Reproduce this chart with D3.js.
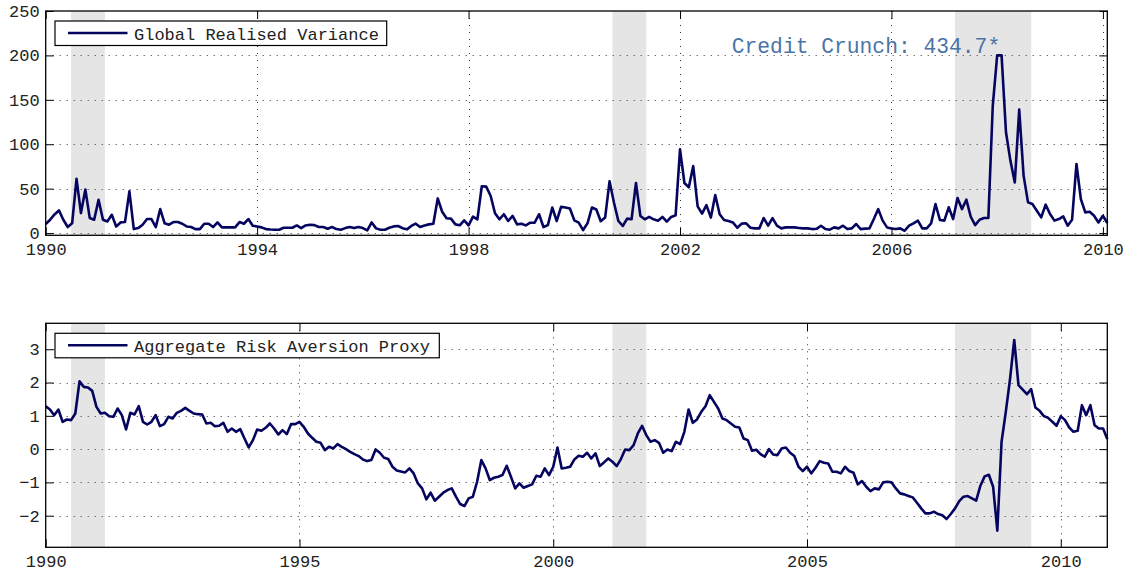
<!DOCTYPE html>
<html>
<head>
<meta charset="utf-8">
<script src="https://cdn.jsdelivr.net/npm/d3@7"></script>
<style>
  html, body { margin: 0; padding: 0; background: #fff; }
  svg { display: block; }
  text { font-family: "Liberation Mono", "DejaVu Sans Mono", monospace; }
</style>
</head>
<body>
<svg id="chart" width="1128" height="574"></svg>
<script>
// ---------------------------------------------------------------
// Data: monthly observations starting January 1990
// ---------------------------------------------------------------
const startYear = 1990;

// Global realised variance, Jan 1990 - Feb 2010 (one row per year)
const varianceValues = [
  10, 15, 21, 25.5, 15, 6.8, 11, 61, 22.5, 49, 17, 15,              // 1990
  37.5, 15, 13, 20.6, 7.5, 12, 12.4, 47, 4.5, 5.6, 9.4, 15.8,       // 1991
  15.8, 6.8, 27, 11, 9.4, 12.4, 12.4, 10.5, 7.5, 6.8, 4.5, 4.5,     // 1992
  10.5, 10.5, 6.8, 12, 6.4, 6.4, 6.4, 6.4, 12.4, 10.5, 15.8, 8.3,   // 1993
  7.5, 6.4, 4.5, 4, 3.8, 3.8, 6, 6, 6, 8.6, 5.6, 8.6,               // 1994
  9.4, 9, 6.8, 6.8, 4.9, 6.8, 4.5, 3.8, 5.6, 6.8, 5.6, 6.8,         // 1995
  5.6, 3, 12, 5.3, 3.8, 3.8, 6, 7.5, 8, 5.5, 4.2, 8,                // 1996
  10.6, 6.8, 8.5, 9.8, 10.6, 39, 24, 16.7, 16.3, 9.8, 8.7, 14.4,    // 1997
  8.7, 18.6, 15.5, 52.7, 52.3, 42, 22.3, 15.5, 21.2, 13.6, 19.3, 9.8, // 1998
  10.6, 8.7, 11.7, 11.7, 21.2, 6.8, 9, 28.8, 13.6, 29.5, 28.8, 27.7, // 1999
  14.4, 11.7, 3.4, 11, 28.8, 26.5, 13.3, 17.4, 58.3, 34.5, 13.6, 8, // 2000
  16.3, 15.5, 56.4, 19.3, 15.5, 18.2, 15.5, 14, 18.2, 12.9, 18.2, 20, // 2001
  94.3, 56.4, 51.5, 75.4, 30, 22, 31.4, 17.4, 42.8, 21.2, 14.8, 13.6, // 2002
  12, 6, 10.6, 11, 6, 5.3, 5.3, 16.9, 8.3, 16.9, 8.3, 5.3,          // 2003
  6.4, 6.4, 6.4, 5.8, 5.3, 5.3, 4.5, 4.8, 8.3, 4.5, 3.8, 6.4,       // 2004
  5.3, 8.3, 4.5, 5.3, 10.2, 4.5, 5, 5.3, 15.8, 27, 14, 6.4,         // 2005
  5.2, 4.5, 5.3, 2.6, 8.3, 11, 14, 5.3, 5.3, 10.9, 32.7, 14.7,      // 2006
  14, 29, 15.8, 39.5, 27, 37.6, 18.4, 9, 15, 16.9, 16.9, 143.6,     // 2007
  434.7, 230, 113.5, 81.6, 57, 139, 64.7, 34.6, 32.7, 25.2, 17.7, 32, // 2008
  21.4, 14, 15.8, 18.8, 8.3, 15, 77.8, 38.3, 23.3, 24, 19.5, 12,    // 2009
  19.5, 11.3                                                        // 2010
];

// Aggregate risk aversion proxy, Jan 1990 - Dec 2010
const riskValues = [
  1.29, 1.19, 1.02, 1.19, 0.82, 0.89, 0.87, 1.07, 2.04, 1.87, 1.85, 1.75,          // 1990
  1.27, 1.07, 1.09, 0.99, 0.97, 1.22, 1.02, 0.59, 1.09, 1.04, 1.29, 0.82,          // 1991
  0.74, 0.82, 1.02, 0.69, 0.75, 0.97, 0.92, 1.09, 1.15, 1.24, 1.15, 1.07,          // 1992
  1.05, 1.04, 0.77, 0.79, 0.69, 0.7, 0.79, 0.52, 0.62, 0.52, 0.6, 0.32,            // 1993
  0.05, 0.27, 0.59, 0.55, 0.64, 0.77, 0.62, 0.44, 0.57, 0.45, 0.75, 0.75,          // 1994
  0.82, 0.67, 0.47, 0.34, 0.22, 0.19, -0.03, 0.07, 0.02, 0.15, 0.07, 0,            // 1995
  -0.08, -0.15, -0.21, -0.31, -0.36, -0.33, -0.01, -0.11, -0.26, -0.3, -0.53, -0.64, // 1996
  -0.67, -0.7, -0.58, -0.73, -1.03, -1.18, -1.51, -1.31, -1.55, -1.43, -1.31, -1.23, // 1997
  -1.18, -1.43, -1.65, -1.71, -1.48, -1.43, -0.98, -0.33, -0.58, -0.93, -0.86, -0.83, // 1998
  -0.78, -0.5, -0.83, -1.18, -1.03, -1.16, -1.11, -1.06, -0.8, -0.83, -0.58, -0.78, // 1999
  -0.53, 0.05, -0.58, -0.56, -0.53, -0.31, -0.2, -0.23, -0.11, -0.28, -0.13, -0.51, // 2000
  -0.4, -0.28, -0.38, -0.51, -0.3, -0.01, -0.03, 0.12, 0.47, 0.7, 0.42, 0.22,      // 2001
  0.27, 0.19, -0.11, -0.01, -0.06, 0.22, 0.15, 0.52, 1.19, 0.79, 0.89, 1.12,       // 2002
  1.29, 1.62, 1.42, 1.22, 0.92, 0.87, 0.77, 0.67, 0.65, 0.32, 0.27, -0.05,         // 2003
  -0.02, -0.15, -0.23, 0, -0.16, -0.18, 0.02, 0.05, -0.11, -0.21, -0.53, -0.66,    // 2004
  -0.53, -0.73, -0.56, -0.36, -0.41, -0.43, -0.68, -0.68, -0.73, -0.53, -0.66, -0.71, // 2005
  -1.06, -0.96, -1.13, -1.26, -1.18, -1.21, -1, -0.98, -1, -1.18, -1.33, -1.36,   // 2006
  -1.41, -1.45, -1.61, -1.78, -1.93, -1.93, -1.88, -1.95, -1.99, -2.1, -1.95, -1.78, // 2007
  -1.56, -1.43, -1.41, -1.48, -1.55, -1.1, -0.82, -0.77, -1.13, -2.45, 0.22, 1.12, // 2008
  2.1, 3.28, 1.92, 1.79, 1.65, 1.8, 1.25, 1.15, 0.99, 0.94, 0.82, 0.7,             // 2009
  0.99, 0.87, 0.65, 0.52, 0.55, 1.32, 1.02, 1.32, 0.72, 0.62, 0.62, 0.3            // 2010
];

// NBER recession periods (first and last month)
const recessions = [
  ["1990-07", "1991-03"],
  ["2001-03", "2001-11"],
  ["2007-12", "2009-06"]
];

const varianceXTicks = [1990, 1994, 1998, 2002, 2006, 2010];
const varianceYTicks = [0, 50, 100, 150, 200, 250];
const riskXTicks = [1990, 1995, 2000, 2005, 2010];
const riskYTicks = [-2, -1, 0, 1, 2, 3];

const varianceName = "Global Realised Variance";
const riskName = "Aggregate Risk Aversion Proxy";
const varianceCap = 200;      // plotted values are capped at this level
const varianceYMax = 250;

// ---------------------------------------------------------------
// Layout and style
// ---------------------------------------------------------------
const svg = d3.select("#chart");
const LINE_COLOR = "#050560";
const SHADE = "#e5e5e5";
const TEXT_COLOR = "#222";
const FONT = 17;
const TICK = 8;

const plotLeft = 45.7, plotRight = 1107.3;
const panelBoxes = {
  upper: { y0: 11, y1: 235.3 },
  lower: { y0: 323.3, y1: 547.3 }
};

const monthToYear = (i) => startYear + i / 12;
const parseMonth = (s) => { const [y, m] = s.split("-").map(Number); return y + (m - 1) / 12; };

// Calendar scale shared by the recession shading of both panels
const calendarX = d3.scaleLinear()
  .domain([startYear, monthToYear(riskValues.length - 1)])
  .range([plotLeft, plotRight]);

function drawPanel(cfg) {
  const { values, xTicks, yTicks, yDomain, box, name, legendWidth, cap } = cfg;
  const g = svg.append("g");

  const x = d3.scaleLinear()
    .domain([startYear, monthToYear(values.length - 1)])
    .range([plotLeft, plotRight]);
  const y = d3.scaleLinear().domain(yDomain).range([box.y1, box.y0]);

  // recession shading
  g.append("g").selectAll("rect")
    .data(recessions)
    .join("rect")
    .attr("x", d => calendarX(parseMonth(d[0])))
    .attr("width", d => calendarX(parseMonth(d[1])) - calendarX(parseMonth(d[0])))
    .attr("y", box.y0)
    .attr("height", box.y1 - box.y0)
    .attr("fill", SHADE);

  // dotted grid
  const grid = g.append("g")
    .attr("stroke", "#333")
    .attr("stroke-width", 1)
    .attr("stroke-dasharray", "1,6");
  grid.selectAll("line.h")
    .data(yTicks.filter(t => y(t) > box.y0 + 0.5))
    .join("line")
    .attr("class", "h")
    .attr("x1", plotLeft).attr("x2", plotRight)
    .attr("y1", d => Math.round(y(d)) + 0.5).attr("y2", d => Math.round(y(d)) + 0.5);
  grid.selectAll("line.v")
    .data(xTicks.filter(t => x(t) > plotLeft + 0.5))
    .join("line")
    .attr("class", "v")
    .attr("x1", d => Math.round(x(d)) + 0.5).attr("x2", d => Math.round(x(d)) + 0.5)
    .attr("y1", box.y0).attr("y2", box.y1);

  // series line
  const line = d3.line()
    .x((d, i) => x(monthToYear(i)))
    .y(d => y(cap !== undefined ? Math.min(d, cap) : d));
  g.append("path")
    .datum(values)
    .attr("d", line)
    .attr("fill", "none")
    .attr("stroke", LINE_COLOR)
    .attr("stroke-width", 2.6)
    .attr("stroke-linejoin", "round");

  // axes with inward ticks on all four sides
  const styleAxis = (sel) => {
    sel.select(".domain").remove();
    sel.selectAll(".tick line").attr("stroke", "#000");
    sel.selectAll("text")
      .attr("fill", TEXT_COLOR)
      .style("font-size", FONT + "px")
      .style("font-family", '"Liberation Mono", "DejaVu Sans Mono", monospace');
  };
  g.append("g").attr("transform", `translate(0,${box.y1})`)
    .call(d3.axisBottom(x).tickValues(xTicks).tickFormat(d3.format("d"))
      .tickSize(-TICK).tickPadding(8))
    .call(styleAxis);
  g.append("g").attr("transform", `translate(0,${box.y0})`)
    .call(d3.axisTop(x).tickValues(xTicks).tickFormat("").tickSize(-TICK))
    .call(styleAxis);
  g.append("g").attr("transform", `translate(${plotLeft},0)`)
    .call(d3.axisLeft(y).tickValues(yTicks).tickFormat(d => d < 0 ? "\u2212" + Math.abs(d) : d)
      .tickSize(-TICK).tickPadding(6))
    .call(styleAxis);
  g.append("g").attr("transform", `translate(${plotRight},0)`)
    .call(d3.axisRight(y).tickValues(yTicks).tickFormat("").tickSize(-TICK))
    .call(styleAxis);

  // frame
  g.append("rect")
    .attr("x", plotLeft).attr("y", box.y0)
    .attr("width", plotRight - plotLeft).attr("height", box.y1 - box.y0)
    .attr("fill", "none").attr("stroke", "#000").attr("stroke-width", 1.3);

  // legend
  const lg = g.append("g").attr("transform", `translate(55,${box.y0 + 10})`);
  lg.append("rect")
    .attr("width", legendWidth).attr("height", 24.5)
    .attr("fill", "#fff").attr("stroke", "#000").attr("stroke-width", 1.2);
  lg.append("line")
    .attr("x1", 13).attr("x2", 72.5).attr("y1", 12).attr("y2", 12)
    .attr("stroke", LINE_COLOR).attr("stroke-width", 2.6);
  lg.append("text")
    .attr("x", 79).attr("y", 18.5)
    .attr("fill", TEXT_COLOR)
    .style("font-size", FONT + "px")
    .text(name);

  return { x, y };
}

const varianceChart = drawPanel({
  values: varianceValues,
  xTicks: varianceXTicks,
  yTicks: varianceYTicks,
  yDomain: [-2.5, varianceYMax],
  box: panelBoxes.upper,
  name: varianceName,
  legendWidth: 331.7,
  cap: varianceCap
});

const riskExtent = d3.extent(riskValues);
drawPanel({
  values: riskValues,
  xTicks: riskXTicks,
  yTicks: riskYTicks,
  yDomain: [riskExtent[0] - 0.5, riskExtent[1] + 0.5],
  box: panelBoxes.lower,
  name: riskName,
  legendWidth: 384.3
});

// annotation for the capped credit-crunch observation
const peakIndex = d3.maxIndex(varianceValues);
svg.append("text")
  .attr("x", varianceChart.x(monthToYear(peakIndex)) + 3)
  .attr("y", varianceChart.y(varianceCap) - 2.8)
  .attr("text-anchor", "end")
  .attr("fill", "#4a74a8")
  .style("font-size", "21.3px")
  .text(`Credit Crunch: ${varianceValues[peakIndex]}*`);
</script>
</body>
</html>
